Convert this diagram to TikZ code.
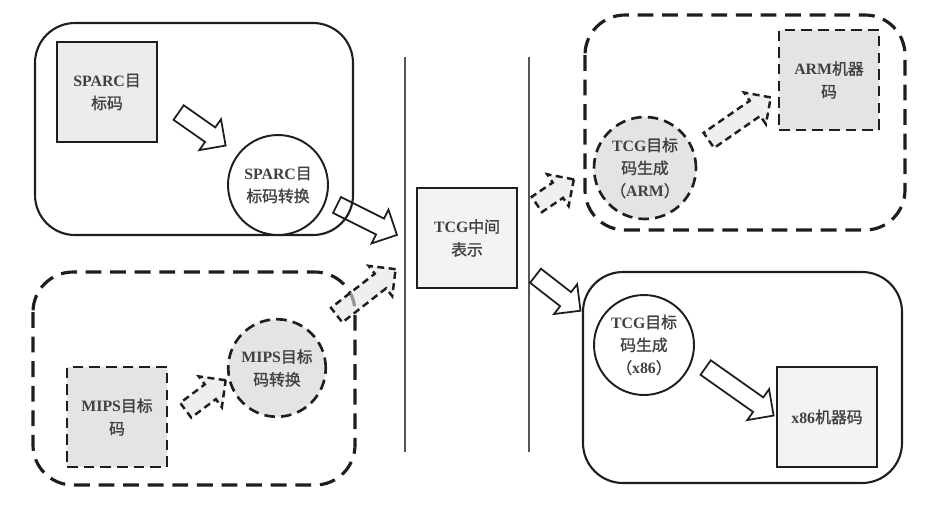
\documentclass[tikz,border=0pt]{standalone}
\usepackage{fontspec}
\setmainfont{Liberation Serif}
\newfontfamily\cjk[AutoFakeBold=1.3]{Noto Sans CJK SC}
\usetikzlibrary{shapes.arrows,calc}
\definecolor{ink}{HTML}{1E1E1E}
\definecolor{shade}{HTML}{E4E4E4}
\definecolor{pale}{HTML}{F3F3F3}
\definecolor{rulegray}{HTML}{555555}
\newcommand{\zh}[1]{{\cjk #1}}
\tikzset{
  lbl/.style={font=\fontsize{9}{13}\selectfont\bfseries,text=ink!85,align=center},
  solidbox/.style={lbl,draw=ink,line width=1.1pt,minimum width=2cm,minimum height=2cm,inner sep=1pt},
  dashbox/.style={solidbox,line width=1.5pt,dash pattern=on 6pt off 3.5pt},
  solidcirc/.style={lbl,circle,draw=ink,line width=1.1pt,minimum size=2cm,inner sep=0pt,fill=white},
  dashcirc/.style={solidcirc,line width=1.5pt,dash pattern=on 6pt off 3.5pt,fill=shade},
  grpsolid/.style={draw=ink,line width=1.2pt,rounded corners=0.8cm},
  grpdash/.style={draw=ink,line width=1.8pt,dash pattern=on 9pt off 5pt,rounded corners=0.8cm},
  blk/.style={single arrow,draw=ink,line width=1pt,inner xsep=0pt,inner ysep=0.16cm,
    single arrow head extend=0.2cm},
  blkdash/.style={blk,line width=1.4pt,dash pattern=on 4pt off 2.5pt,fill=shade,fill opacity=0.6}
}
% hollow block arrow from tail #2 to tip #3
\newcommand{\blockarrow}[3][blk]{%
  \path let \p1=(#2), \p2=(#3),
    \n1={atan2(\y2-\y1,\x2-\x1)}, \n2={veclen(\x2-\x1,\y2-\y1)} in
    node[#1,minimum height=\n2,rotate=\n1] at ($(\p1)!0.5!(\p2)$) {};}

\begin{document}
\begin{tikzpicture}[x=0.02cm,y=-0.02cm]
  \useasboundingbox (0,0) rectangle (940,512);

  % groups
  \draw[grpsolid] (35,23) rectangle (353,235);
  \draw[grpdash] (33,272) rectangle (355,485);
  \draw[grpdash] (585,15) rectangle (905,230);
  \draw[grpsolid] (583,272) rectangle (902,483);

  % separators
  \draw[rulegray,line width=1.3pt] (405,57) -- (405,452);
  \draw[rulegray,line width=1.3pt] (529,57) -- (529,452);

  % source side
  \node[solidbox,fill=shade!70] (sparcbox) at (107,92) {SPARC\zh{目}\\\zh{标码}};
  \node[solidcirc] (sparccirc) at (278,185) {SPARC\zh{目}\\\zh{标码转换}};
  \node[dashbox,fill=shade] (mipsbox) at (117,417) {MIPS\zh{目标}\\\zh{码}};
  \node[dashcirc,minimum size=1.95cm] (mipscirc) at (277,368) {MIPS\zh{目标}\\\zh{码转换}};

  % intermediate
  \node[solidbox,fill=pale] (tcgbox) at (467,238) {TCG\zh{中间}\\\zh{表示}};

  % target side
  \node[dashcirc,minimum size=2.04cm] (armcirc) at (645,168) {TCG\zh{目标}\\\zh{码生成}\\\zh{（}ARM\zh{）}};
  \node[dashbox,fill=shade] (armbox) at (829,80) {ARM\zh{机器}\\\zh{码}};
  \node[solidcirc] (x86circ) at (644,345) {TCG\zh{目标}\\\zh{码生成}\\\zh{（}x86\zh{）}};
  \node[solidbox,fill=pale] (x86box) at (827,417) {x86\zh{机器码}};

  % arrow ends
  \coordinate (sparctail) at (175,110);
  \coordinate (sparctip) at (222,143);
  \coordinate (convtail) at (333,203);
  \coordinate (convtip) at (393,233);
  \coordinate (mipstail) at (182,413);
  \coordinate (mipstip) at (222,383);
  \coordinate (mconvtail) at (333,318);
  \coordinate (mconvtip) at (392,272);
  \coordinate (armtail) at (533,207);
  \coordinate (armtip) at (570,182);
  \coordinate (genarmtail) at (705,143);
  \coordinate (genarmtip) at (767,100);
  \coordinate (x86tail) at (532,273);
  \coordinate (x86tip) at (577,308);
  \coordinate (genx86tail) at (702,365);
  \coordinate (genx86tip) at (770,413);

  \blockarrow{sparctail}{sparctip}
  \blockarrow{convtail}{convtip}
  \blockarrow[blkdash]{mipstail}{mipstip}
  \blockarrow[blkdash]{mconvtail}{mconvtip}
  \blockarrow[blkdash]{armtail}{armtip}
  \blockarrow[blkdash]{genarmtail}{genarmtip}
  \blockarrow{x86tail}{x86tip}
  \blockarrow{genx86tail}{genx86tip}
\end{tikzpicture}
\end{document}
